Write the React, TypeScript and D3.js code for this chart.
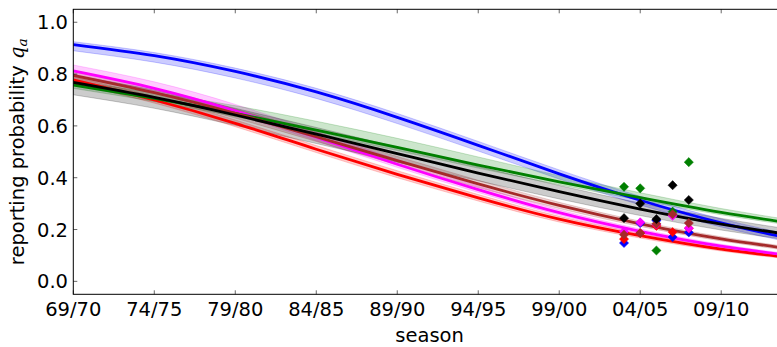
import React from "react";
import * as d3 from "d3";

// Seasons at which the fitted curves are tabulated (start year of season)
const seasons = [1969, 1974, 1979, 1984, 1989, 1994, 1999, 2004, 2009, 2014];

// Fitted reporting probability per age group: centre line and band limits
const blueMid = [0.914, 0.871, 0.81, 0.731, 0.633, 0.525, 0.415, 0.313, 0.226, 0.155];
const blueLo = [0.89, 0.846, 0.785, 0.706, 0.609, 0.503, 0.395, 0.295, 0.21, 0.141];
const blueHi = [0.925, 0.883, 0.823, 0.745, 0.648, 0.54, 0.43, 0.328, 0.241, 0.17];

const redMid = [0.778, 0.7, 0.61, 0.51, 0.413, 0.322, 0.24, 0.176, 0.124, 0.087];
const redLo = [0.765, 0.688, 0.597, 0.497, 0.4, 0.31, 0.229, 0.167, 0.117, 0.081];
const redHi = [0.79, 0.713, 0.623, 0.524, 0.427, 0.335, 0.251, 0.185, 0.131, 0.093];

const magentaMid = [0.812, 0.745, 0.658, 0.556, 0.452, 0.354, 0.265, 0.193, 0.136, 0.094];
const magentaLo = [0.8, 0.732, 0.644, 0.543, 0.44, 0.343, 0.256, 0.185, 0.13, 0.089];
const magentaHi = [0.835, 0.77, 0.683, 0.578, 0.47, 0.368, 0.276, 0.202, 0.143, 0.1];

const greenMid = [0.758, 0.706, 0.648, 0.584, 0.517, 0.449, 0.384, 0.323, 0.266, 0.218];
const greenLo = [0.745, 0.694, 0.636, 0.572, 0.505, 0.437, 0.373, 0.313, 0.257, 0.21];
const greenHi = [0.772, 0.728, 0.678, 0.618, 0.552, 0.48, 0.408, 0.342, 0.281, 0.23];

const brownMid = [0.795, 0.728, 0.648, 0.558, 0.466, 0.376, 0.293, 0.222, 0.164, 0.119];
const brownLo = [0.775, 0.71, 0.63, 0.54, 0.45, 0.362, 0.281, 0.212, 0.156, 0.112];
const brownHi = [0.81, 0.745, 0.665, 0.575, 0.482, 0.39, 0.305, 0.232, 0.172, 0.126];

const blackMid = [0.768, 0.71, 0.642, 0.568, 0.493, 0.418, 0.346, 0.279, 0.221, 0.173];
const blackLo = [0.72, 0.668, 0.602, 0.532, 0.46, 0.388, 0.318, 0.254, 0.198, 0.152];
const blackHi = [0.795, 0.738, 0.668, 0.594, 0.518, 0.443, 0.37, 0.302, 0.243, 0.194];

// Observed reporting probabilities, seasons 03/04 – 07/08
const obsSeasons = [2003, 2004, 2005, 2006, 2007];
const blueObs = [0.148, 0.225, 0.235, 0.171, 0.189];
const redObs = [0.163, 0.186, 0.214, 0.19, 0.205];
const magentaObs = [0.192, 0.228, 0.22, 0.253, 0.205];
const greenObs = [0.365, 0.359, 0.119, 0.269, 0.46];
const brownObs = [0.18, 0.186, 0.222, 0.259, 0.225];
const blackObs = [0.244, 0.3, 0.24, 0.371, 0.314];

// Axis ticks
const xTicks = [1969, 1974, 1979, 1984, 1989, 1994, 1999, 2004, 2009];
const xTickLabels = ["69/70", "74/75", "79/80", "84/85", "89/90", "94/95", "99/00", "04/05", "09/10"];
const yTicks = [0, 0.2, 0.4, 0.6, 0.8, 1.0];
const yTickLabels = ["0.0", "0.2", "0.4", "0.6", "0.8", "1.0"];

const series = [
  { color: "#0000ff", mid: blueMid, lo: blueLo, hi: blueHi, obs: blueObs },
  { color: "#ff0000", mid: redMid, lo: redLo, hi: redHi, obs: redObs },
  { color: "#ff00ff", mid: magentaMid, lo: magentaLo, hi: magentaHi, obs: magentaObs },
  { color: "#008000", mid: greenMid, lo: greenLo, hi: greenHi, obs: greenObs },
  { color: "#a52a2a", mid: brownMid, lo: brownLo, hi: brownHi, obs: brownObs },
  { color: "#000000", mid: blackMid, lo: blackLo, hi: blackHi, obs: blackObs },
];

const W = 777;
const H = 347;
const left = 73.3;
const right = 786;
const top = 9.3;
const bottom = 294.3;
const FONT = "'DejaVu Sans', sans-serif";
const FS = 19.5;

export default function App() {
  const x = d3.scaleLinear().domain([1969, 2013]).range([left, right]);
  const y = d3.scaleLinear().domain([-0.05, 1.05]).range([bottom, top]);

  const line = d3
    .line<number>()
    .x((_, i) => x(seasons[i]))
    .y((d) => y(d))
    .curve(d3.curveNatural);

  const bandPath = (lo: number[], hi: number[]) =>
    d3
      .area<number>()
      .x((_, i) => x(seasons[i]))
      .y0((_, i) => y(lo[i]))
      .y1((_, i) => y(hi[i]))
      .curve(d3.curveNatural)(seasons) || "";

  const diamond = (cx: number, cy: number, r: number) =>
    `M${cx},${cy - r}L${cx + r},${cy}L${cx},${cy + r}L${cx - r},${cy}Z`;

  return (
    <svg
      width={W}
      height={H}
      style={{ position: "absolute", left: 0, top: 0, background: "#fff" }}
      fontFamily={FONT}
    >
      <defs>
        <clipPath id="plot-area">
          <rect x={left} y={top} width={right - left} height={bottom - top} />
        </clipPath>
      </defs>
      <rect x={0} y={0} width={W} height={H} fill="#fff" />

      <g clipPath="url(#plot-area)">
        {series.map((s, k) => (
          <path
            key={"band" + k}
            d={bandPath(s.lo, s.hi)}
            fill={s.color}
            fillOpacity={0.2}
            stroke={s.color}
            strokeOpacity={0.2}
            strokeWidth={1}
          />
        ))}
        {series.map((s, k) => (
          <path
            key={"line" + k}
            d={line(s.mid) || ""}
            fill="none"
            stroke={s.color}
            strokeWidth={2.8}
          />
        ))}
        {series.map((s, k) => (
          <g key={"obs" + k}>
            {s.obs.map((v, i) => (
              <path key={i} d={diamond(x(obsSeasons[i]), y(v), 4.6)} fill={s.color} stroke={s.color} strokeWidth={0.5} />
            ))}
          </g>
        ))}
      </g>

      {/* axes frame */}
      <rect x={left} y={top} width={right - left} height={bottom - top} fill="none" stroke="#000" strokeWidth={1} />

      {/* x ticks */}
      {xTicks.map((t, i) => (
        <g key={"xt" + i}>
          <line x1={x(t)} x2={x(t)} y1={bottom} y2={bottom - 4} stroke="#000" strokeWidth={0.6} />
          <line x1={x(t)} x2={x(t)} y1={top} y2={top + 4} stroke="#000" strokeWidth={0.6} />
          <text x={x(t)} y={316} textAnchor="middle" fontSize={FS} fill="#000">
            {xTickLabels[i]}
          </text>
        </g>
      ))}

      {/* y ticks */}
      {yTicks.map((t, i) => (
        <g key={"yt" + i}>
          <line x1={left} x2={left + 4} y1={y(t)} y2={y(t)} stroke="#000" strokeWidth={0.6} />
          <line x1={right} x2={right - 4} y1={y(t)} y2={y(t)} stroke="#000" strokeWidth={0.6} />
          <text x={68} y={y(t)} dy="0.36em" textAnchor="end" fontSize={FS} fill="#000">
            {yTickLabels[i]}
          </text>
        </g>
      ))}

      <text x={(left + right) / 2} y={342} textAnchor="middle" fontSize={FS} fill="#000">
        season
      </text>

      <text
        transform={`translate(24,${(top + bottom) / 2}) rotate(-90)`}
        textAnchor="middle"
        fontSize={FS}
        fill="#000"
      >
        reporting probability{" "}
        <tspan fontStyle="italic" fontFamily="'DejaVu Serif', serif">q</tspan>
        <tspan fontStyle="italic" fontFamily="'DejaVu Serif', serif" fontSize={FS * 0.7} dy="0.25em">a</tspan>
      </text>
    </svg>
  );
}
